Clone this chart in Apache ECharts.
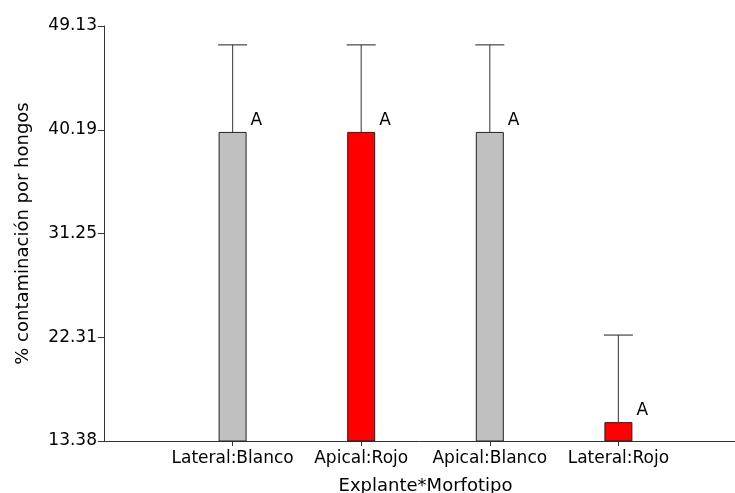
<!DOCTYPE html>
<html>
<head>
<meta charset="utf-8">
<script src="https://cdn.jsdelivr.net/npm/echarts@6/dist/echarts.min.js"></script>
<style>
  html, body { margin: 0; padding: 0; background: #fff; }
  #chart { width: 735px; height: 493px; }
</style>
</head>
<body>
<div id="chart"></div>
<script>
// Treatment groups (Explante*Morfotipo)
const categories = ['Lateral:Blanco', 'Apical:Rojo', 'Apical:Blanco', 'Lateral:Rojo'];
// Mean % fungal contamination per group
const means = [40, 40, 40, 15];
// Upper error (standard error) per group
const errors = [7.5, 7.5, 7.5, 7.5];
// Significance letters
const letters = ['A', 'A', 'A', 'A'];
// Bar fills per group
const fills = ['#c0c0c0', '#ff0000', '#c0c0c0', '#ff0000'];
// Y axis ticks
const yMin = 13.375;
const yMax = 49.125;
const yStep = 8.9375;

const FONT = 'DejaVu Sans';
const INK = '#000000';
const BAR_W = 28;

const positions = categories.map((c, i) => i + 1);

const chart = echarts.init(document.getElementById('chart'), null, { renderer: 'canvas' });

chart.setOption({
  backgroundColor: '#ffffff',
  animation: false,
  grid: { left: 104, right: -12, top: 26, bottom: 52, containLabel: false, outerBoundsMode: 'none' },
  xAxis: {
    type: 'value',
    min: 0,
    max: categories.length + 1,
    interval: 1,
    name: 'Explante*Morfotipo',
    nameLocation: 'middle',
    nameGap: 36,
    nameTextStyle: { fontFamily: FONT, fontSize: 18, color: INK },
    splitLine: { show: false },
    axisLine: { show: true, lineStyle: { color: '#333', width: 1 } },
    axisTick: { show: true, length: 5, lineStyle: { color: '#333' }, customValues: positions },
    axisLabel: {
      customValues: positions,
      margin: 9,
      fontFamily: FONT, fontSize: 17, color: INK,
      formatter: v => categories[Math.round(v) - 1] || ''
    }
  },
  yAxis: {
    type: 'value',
    min: yMin,
    max: yMax,
    interval: yStep,
    name: '% contaminación por hongos',
    nameLocation: 'middle',
    nameGap: 72,
    nameTextStyle: { fontFamily: FONT, fontSize: 18, color: INK },
    splitLine: { show: false },
    axisLine: { show: true, lineStyle: { color: '#333', width: 1 } },
    axisTick: { show: true, length: 6, lineStyle: { color: '#333' } },
    axisLabel: {
      margin: 7,
      fontFamily: FONT, fontSize: 17, color: INK,
      formatter: v => v.toFixed(2),
      showMinLabel: true, showMaxLabel: true
    }
  },
  series: [
    {
      type: 'bar',
      barWidth: BAR_W,
      data: means.map((m, i) => ({
        value: [positions[i], m],
        itemStyle: { color: fills[i], borderColor: '#222', borderWidth: 1 }
      })),
      z: 2
    },
    {
      // upper error whiskers with caps, plus the group letter
      type: 'custom',
      z: 3,
      data: means.map((m, i) => [positions[i], m, m + errors[i], i]),
      renderItem: (params, api) => {
        const x = api.value(0);
        const base = api.coord([x, api.value(1)]);
        const top = api.coord([x, api.value(2)]);
        const half = BAR_W / 2 + 0.5;
        const idx = api.value(3);
        return {
          type: 'group',
          children: [
            { type: 'line', shape: { x1: base[0], y1: base[1], x2: top[0], y2: top[1] },
              style: { stroke: '#555', lineWidth: 1.2 } },
            { type: 'line', shape: { x1: top[0] - half, y1: top[1], x2: top[0] + half, y2: top[1] },
              style: { stroke: '#444', lineWidth: 1.2 } },
            { type: 'text', x: base[0] + 18, y: base[1] - 3,
              style: { text: letters[idx], font: '17px ' + FONT, fill: INK,
                       align: 'left', verticalAlign: 'bottom' } }
          ]
        };
      }
    }
  ]
});
</script>
</body>
</html>
